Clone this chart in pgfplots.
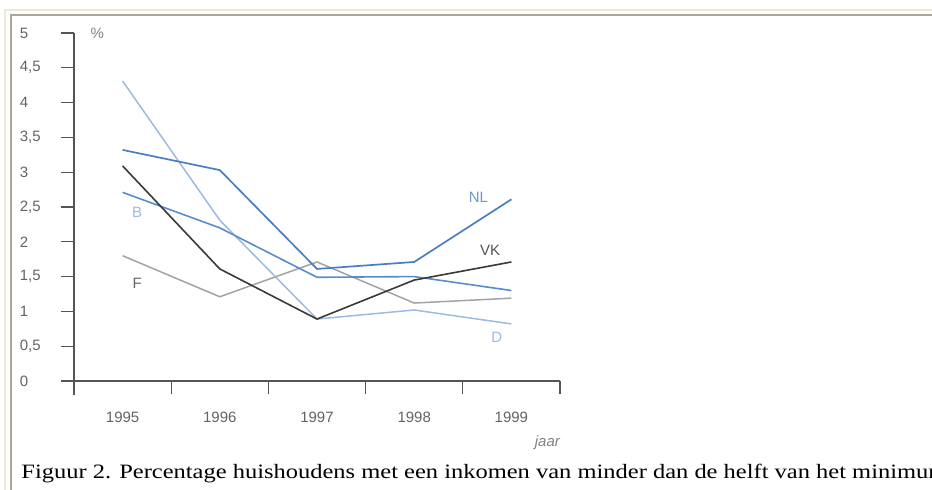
\documentclass[border=0pt]{standalone}
\usepackage{fontspec}
\setmainfont{Liberation Sans}
\newfontfamily\capfont{Liberation Serif}
\usepackage{pgfplots}
\pgfplotsset{compat=1.18}

\definecolor{nlblue}{HTML}{4A7FC1}
\definecolor{bblue}{HTML}{5A8CCB}
\definecolor{dblue}{HTML}{9DBBE0}
\definecolor{vkgray}{HTML}{3A3A3A}
\definecolor{fgray}{HTML}{A3A3A3}
\definecolor{axgray}{HTML}{555555}
\definecolor{txtgray}{HTML}{646464}
\definecolor{framegray}{HTML}{A9A69C}
\definecolor{framebeige}{HTML}{ECE9D8}

\begin{document}
\begin{tikzpicture}[x=0.5pt,y=0.5pt]
% picture in pixel units, 932 x 490, origin bottom left
\useasboundingbox (0,0) rectangle (932,490);
\fill[white] (0,0) rectangle (932,490);
\begin{scope}
\clip (0,0) rectangle (932,490);
\draw[framebeige, line width=0.6pt] (5,-10) -- (5,480) -- (940,480);
\draw[framegray, line width=1pt] (11,-10) -- (11,475) -- (940,475);
\node[anchor=base west, inner sep=0pt, font=\capfont\fontsize{10.2pt}{12pt}\selectfont]
  at (21,11) {\scalebox{1.2}[1]{Figuur 2. Percentage huishoudens met een inkomen van minder dan de helft van het minimum}};
\end{scope}

\begin{axis}[
  at={(37pt,54.5pt)}, anchor=south west,
  scale only axis, width=243pt, height=174pt,
  xmin=-0.5, xmax=4.5, ymin=0, ymax=5,
  axis lines=left, axis line style={draw=none,-},
  clip=false,
  tick align=outside, major tick length=6.75pt,
  every tick/.style={axgray, line width=0.6pt},
  xtick={-0.5,0.5,1.5,2.5,3.5,4.5}, xticklabels={},
  extra x ticks={0,1,2,3,4},
  extra x tick labels={1995,1996,1997,1998,1999},
  extra x tick style={major tick length=0pt,
    xticklabel style={anchor=center, yshift=-18pt}},
  ytick={0,0.5,1,1.5,2,2.5,3,3.5,4,4.5,5},
  yticklabels={0,{0,5},1,{1,5},2,{2,5},3,{3,5},4,{4,5},5},
  yticklabel style={anchor=west, inner sep=0pt, xshift=-20.5pt},
  ticklabel style={font=\fontsize{7.5pt}{8.5pt}\selectfont, text=txtgray},
]
\addplot[dblue, line width=0.75pt] coordinates {(0,4.31) (1,2.31) (2,0.89) (3,1.02) (4,0.82)};
\addplot[fgray, line width=0.75pt] coordinates {(0,1.80) (1,1.21) (2,1.71) (3,1.12) (4,1.19)};
\addplot[bblue, line width=0.8pt] coordinates {(0,2.71) (1,2.20) (2,1.49) (3,1.50) (4,1.30)};
\addplot[vkgray, line width=0.8pt] coordinates {(0,3.09) (1,1.61) (2,0.89) (3,1.45) (4,1.71)};
\addplot[nlblue, line width=0.85pt] coordinates {(0,3.32) (1,3.03) (2,1.61) (3,1.71) (4,2.61)};

\draw[axgray, line width=0.75pt] (axis cs:-0.634,0) -- (axis cs:4.5,0);
\draw[axgray, line width=0.75pt] (axis cs:-0.5,5) -- (axis cs:-0.5,-0.2);

\begin{scope}[font=\fontsize{7.5pt}{8.5pt}\selectfont]
\node[text=txtgray!80] at (axis cs:-0.26,5.0) {\%};
\node[text=nlblue!80] at (axis cs:3.66,2.64) {NL};
\node[text=axgray] at (axis cs:3.78,1.88) {VK};
\node[text=dblue] at (axis cs:0.15,2.43) {B};
\node[text=txtgray] at (axis cs:0.15,1.41) {F};
\node[text=dblue] at (axis cs:3.85,0.62) {D};
\node[text=txtgray!80, font=\fontsize{7.5pt}{8.5pt}\selectfont\itshape] at (axis cs:4.37,-0.88) {jaar};
\end{scope}
\end{axis}
\end{tikzpicture}
\end{document}
